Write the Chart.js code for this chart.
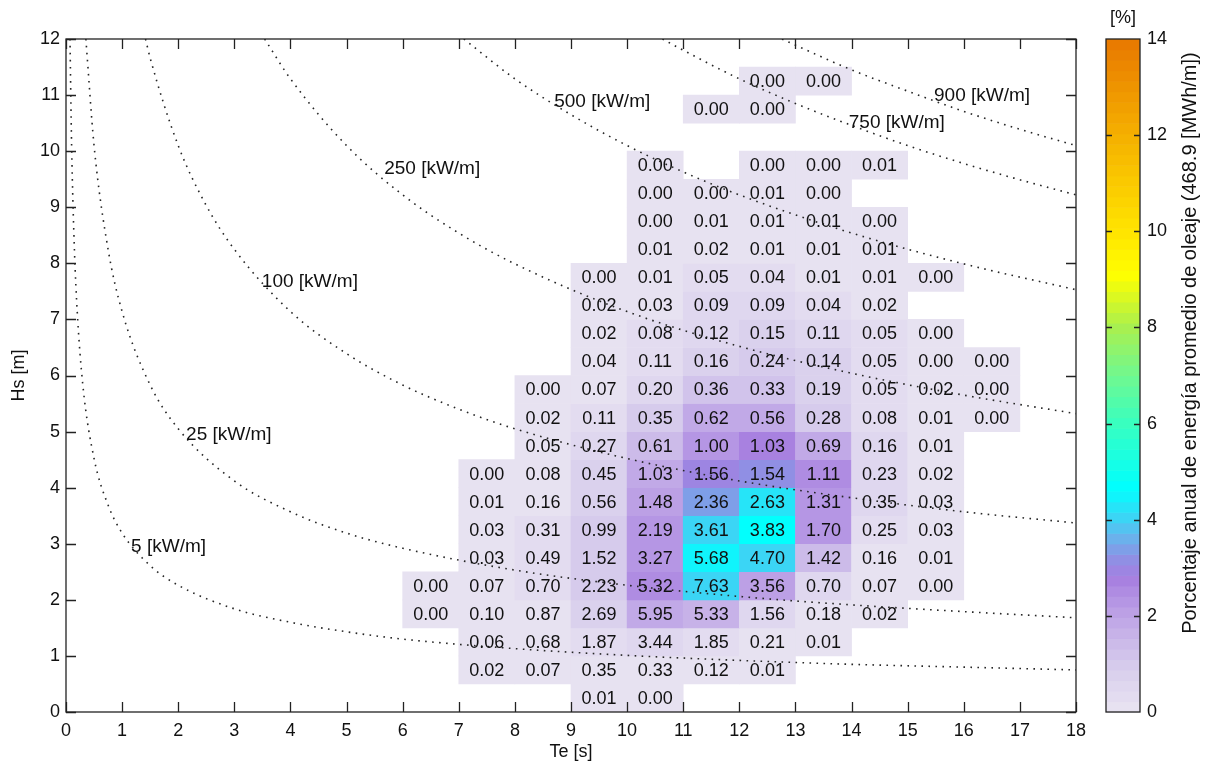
<!DOCTYPE html>
<html>
<head>
<meta charset="utf-8">
<title>Diagrama de dispersion Hs - Te</title>
<script src="https://cdn.jsdelivr.net/npm/chart.js@4.4.1/dist/chart.umd.min.js"></script>
<style>
  html, body { margin: 0; padding: 0; background: #fff; }
  #wrap { position: relative; width: 1206px; height: 766px; }
  #main { position: absolute; left: 0; top: 0; }
  #cbar { position: absolute; left: 1090px; top: 0; }
</style>
</head>
<body>
<div id="wrap">
  <canvas id="main" width="1206" height="766"></canvas>
  <canvas id="cbar" width="116" height="766"></canvas>
</div>
<script>
// Te [s], centre of every column of cells
var teBins = [6.5, 7.5, 8.5, 9.5, 10.5, 11.5, 12.5, 13.5, 14.5, 15.5, 16.5];

// Hs [m], centre of every row of cells (bottom to top)
var hsBins = [0.25, 0.75, 1.25, 1.75, 2.25, 2.75, 3.25, 3.75, 4.25, 4.75, 5.25,
              5.75, 6.25, 6.75, 7.25, 7.75, 8.25, 8.75, 9.25, 9.75, 10.25, 10.75, 11.25];

// value written in each cell [%], one row per Hs bin, null = empty cell
var occ = [
  [null, null, null, 0.01, 0.00, null, null, null, null, null, null],
  [null, 0.02, 0.07, 0.35, 0.33, 0.12, 0.01, null, null, null, null],
  [null, 0.06, 0.68, 1.87, 3.44, 1.85, 0.21, 0.01, null, null, null],
  [0.00, 0.10, 0.87, 2.69, 5.95, 5.33, 1.56, 0.18, 0.02, null, null],
  [0.00, 0.07, 0.70, 2.23, 5.32, 7.63, 3.56, 0.70, 0.07, 0.00, null],
  [null, 0.03, 0.49, 1.52, 3.27, 5.68, 4.70, 1.42, 0.16, 0.01, null],
  [null, 0.03, 0.31, 0.99, 2.19, 3.61, 3.83, 1.70, 0.25, 0.03, null],
  [null, 0.01, 0.16, 0.56, 1.48, 2.36, 2.63, 1.31, 0.35, 0.03, null],
  [null, 0.00, 0.08, 0.45, 1.03, 1.56, 1.54, 1.11, 0.23, 0.02, null],
  [null, null, 0.05, 0.27, 0.61, 1.00, 1.03, 0.69, 0.16, 0.01, null],
  [null, null, 0.02, 0.11, 0.35, 0.62, 0.56, 0.28, 0.08, 0.01, 0.00],
  [null, null, 0.00, 0.07, 0.20, 0.36, 0.33, 0.19, 0.05, 0.02, 0.00],
  [null, null, null, 0.04, 0.11, 0.16, 0.24, 0.14, 0.05, 0.00, 0.00],
  [null, null, null, 0.02, 0.08, 0.12, 0.15, 0.11, 0.05, 0.00, null],
  [null, null, null, 0.02, 0.03, 0.09, 0.09, 0.04, 0.02, null, null],
  [null, null, null, 0.00, 0.01, 0.05, 0.04, 0.01, 0.01, 0.00, null],
  [null, null, null, null, 0.01, 0.02, 0.01, 0.01, 0.01, null, null],
  [null, null, null, null, 0.00, 0.01, 0.01, 0.01, 0.00, null, null],
  [null, null, null, null, 0.00, 0.00, 0.01, 0.00, null, null, null],
  [null, null, null, null, 0.00, null, 0.00, 0.00, 0.01, null, null],
  [null, null, null, null, null, null, null, null, null, null, null],
  [null, null, null, null, null, 0.00, 0.00, null, null, null, null],
  [null, null, null, null, null, null, 0.00, 0.00, null, null, null]
];

// iso-power lines [kW/m]
var powerLevels = [5, 25, 100, 250, 500, 750, 900];

// points, [Te, Hs]
var contour5 = [[0.071, 12], [0.1, 10.10], [0.15, 8.25], [0.2, 7.14], [0.3, 5.83], [0.5, 4.52], [0.75, 3.69],
                [1, 3.19], [1.5, 2.61], [2, 2.26], [3, 1.84], [4, 1.60], [5, 1.43], [6, 1.30], [8, 1.13],
                [10, 1.01], [12, 0.92], [14, 0.85], [16, 0.80], [18, 0.75]];
var contour25 = [[0.354, 12], [0.5, 10.10], [0.75, 8.25], [1, 7.14], [1.5, 5.83], [2, 5.05], [3, 4.12],
                 [4, 3.57], [5, 3.19], [6, 2.92], [8, 2.53], [10, 2.26], [12, 2.06], [14, 1.91], [16, 1.79], [18, 1.68]];
var contour100 = [[1.417, 12], [1.5, 11.66], [2, 10.10], [2.5, 9.03], [3, 8.25], [4, 7.14], [5, 6.39], [6, 5.83],
                  [7, 5.40], [8, 5.05], [10, 4.52], [12, 4.12], [14, 3.82], [16, 3.57], [18, 3.37]];
var contour250 = [[3.54, 12], [4, 11.29], [5, 10.10], [6, 9.22], [7, 8.54], [8, 7.99], [10, 7.14],
                  [12, 6.52], [14, 6.04], [16, 5.65], [18, 5.32]];
var contour500 = [[7.09, 12], [8, 11.29], [9, 10.65], [10, 10.10], [11, 9.63], [12, 9.22], [14, 8.54], [16, 7.99], [18, 7.53]];
var contour750 = [[10.63, 12], [11, 11.80], [12, 11.29], [13, 10.85], [14, 10.46], [15, 10.10], [16, 9.78], [17, 9.49], [18, 9.22]];
var contour900 = [[12.76, 12], [13, 11.89], [14, 11.45], [15, 11.07], [16, 10.71], [17, 10.39], [18, 10.10]];
var contours = [contour5, contour25, contour100, contour250, contour500, contour750, contour900];

// where each line label starts (Te, Hs)
var labelTe = [1.16, 2.14, 3.49, 5.67, 8.70, 13.95, 15.47];
var labelHs = [2.96, 4.97, 7.69, 9.70, 10.90, 10.52, 11.00];

var cbarMax = 14;
var cbarTitle = 'Porcentaje anual de energía promedio de oleaje (468.9 [MWh/m])';

var FONT = '"Liberation Sans", Arial, Helvetica, sans-serif';
Chart.defaults.font.family = FONT;
Chart.defaults.font.size = 18;
Chart.defaults.color = '#111';

// colour map of the colour bar (value -> rgb)
var cmapStops = [
  [0, [233, 229, 242]], [1, [214, 203, 236]], [2, [190, 164, 230]], [2.8, [166, 126, 224]],
  [3.2, [142, 144, 228]], [3.6, [108, 176, 236]], [4.0, [64, 210, 244]], [4.65, [0, 255, 255]],
  [6, [56, 255, 192]], [7, [112, 248, 144]], [8, [168, 240, 80]], [9.1, [255, 255, 0]],
  [10, [255, 228, 0]], [12, [245, 176, 0]], [14, [232, 120, 0]]
];

function cmapRgb(v) {
  // 64 flat steps, like the colour bar
  var lvl = Math.min(63, Math.max(0, Math.floor(v / cbarMax * 64)));
  var t = (lvl + 0.5) * cbarMax / 64;
  for (var i = 1; i < cmapStops.length; i++) {
    if (t <= cmapStops[i][0]) {
      var a = cmapStops[i - 1], b = cmapStops[i];
      var f = (t - a[0]) / (b[0] - a[0]);
      var c = a[1].map(function(x, k) { return Math.round(x + (b[1][k] - x) * f); });
      return 'rgb(' + c.join(',') + ')';
    }
  }
  return 'rgb(232,120,0)';
}

// colour shows the share of the annual energy of each bin (P ~ Hs^2 * Te)
var energyTotal = 0;
hsBins.forEach(function(hs, r) {
  occ[r].forEach(function(v, c) {
    if (v !== null) energyTotal += v * hs * hs * teBins[c];
  });
});

var cells = [];
hsBins.forEach(function(hs, r) {
  occ[r].forEach(function(v, c) {
    if (v === null) return;
    var te = teBins[c];
    cells.push({ x: te, y: [hs - 0.25, hs + 0.25], occ: v, share: 100 * v * hs * hs * te / energyTotal });
  });
});

var datasets = [];
contours.forEach(function(pts, i) {
  datasets.push({
    type: 'line',
    label: powerLevels[i] + ' [kW/m]',
    data: pts.map(function(p) { return { x: p[0], y: p[1] }; }),
    borderColor: '#262626',
    borderWidth: 1.6,
    borderDash: [1.6, 5.4],
    pointRadius: 0,
    cubicInterpolationMode: 'monotone',
    fill: false,
    order: 1
  });
});
datasets.push({
  type: 'bar',
  label: 'celdas',
  data: cells,
  backgroundColor: function(c) { return c.raw ? cmapRgb(c.raw.share) : 'rgba(0,0,0,0)'; },
  borderWidth: 0,
  barPercentage: 1,
  categoryPercentage: 1,
  order: 2
});

// numbers in the cells + labels of the dotted lines
var textPlugin = {
  id: 'textPlugin',
  afterDatasetsDraw: function(chart) {
    var ctx = chart.ctx, xs = chart.scales.x, ys = chart.scales.y;
    ctx.save();
    ctx.font = '18px ' + FONT;
    ctx.fillStyle = '#111';
    ctx.textAlign = 'center';
    ctx.textBaseline = 'middle';
    hsBins.forEach(function(hs, r) {
      occ[r].forEach(function(v, c) {
        if (v === null) return;
        ctx.fillText(v.toFixed(2), xs.getPixelForValue(teBins[c]), ys.getPixelForValue(hs) + 1);
      });
    });
    ctx.font = '19px ' + FONT;
    ctx.textAlign = 'left';
    powerLevels.forEach(function(p, i) {
      ctx.fillText(p + ' [kW/m]', xs.getPixelForValue(labelTe[i]), ys.getPixelForValue(labelHs[i]) + 1);
    });
    ctx.restore();
  }
};

// box and inward ticks
var framePlugin = {
  id: 'framePlugin',
  afterDraw: function(chart) {
    var ctx = chart.ctx, a = chart.chartArea, xs = chart.scales.x, ys = chart.scales.y;
    var tl = 10, i, p;
    ctx.save();
    ctx.strokeStyle = '#222';
    ctx.lineWidth = 1.3;
    ctx.beginPath();
    for (i = 0; i <= 18; i++) {
      p = Math.round(xs.getPixelForValue(i)) + 0.5;
      ctx.moveTo(p, a.bottom); ctx.lineTo(p, a.bottom - tl);
      ctx.moveTo(p, a.top); ctx.lineTo(p, a.top + tl);
    }
    for (i = 0; i <= 12; i++) {
      p = Math.round(ys.getPixelForValue(i)) + 0.5;
      ctx.moveTo(a.left, p); ctx.lineTo(a.left + tl, p);
      ctx.moveTo(a.right, p); ctx.lineTo(a.right - tl, p);
    }
    ctx.stroke();
    ctx.strokeRect(a.left, a.top, a.right - a.left, a.bottom - a.top);
    ctx.restore();
  }
};

new Chart(document.getElementById('main'), {
  type: 'bar',
  data: { datasets: datasets },
  options: {
    responsive: false,
    animation: false,
    layout: { padding: { left: 0, right: 130, top: 39, bottom: 0 } },
    plugins: { legend: { display: false }, tooltip: { enabled: false } },
    scales: {
      x: {
        type: 'linear', min: 0, max: 18, offset: false,
        ticks: { stepSize: 1, padding: 8, maxRotation: 0, autoSkip: false },
        grid: { display: false, drawTicks: false, offset: false },
        border: { display: false },
        title: { display: true, text: 'Te [s]', padding: { top: 0, bottom: 3 } },
        afterFit: function(s) { s.height = 54; }
      },
      y: {
        type: 'linear', min: 0, max: 12,
        ticks: { stepSize: 1, padding: 6 },
        grid: { display: false, drawTicks: false },
        border: { display: false },
        title: { display: true, text: 'Hs [m]', padding: { top: 8, bottom: 0 } },
        afterFit: function(s) { s.width = 66; }
      }
    }
  },
  plugins: [textPlugin, framePlugin]
});

// colour bar
var cbarPlugin = {
  id: 'cbarPlugin',
  beforeDatasetsDraw: function(chart) {
    var ctx = chart.ctx, a = chart.chartArea, ys = chart.scales.y;
    ctx.save();
    for (var i = 0; i < 64; i++) {
      var v0 = i * cbarMax / 64, v1 = (i + 1) * cbarMax / 64;
      var y0 = ys.getPixelForValue(v0), y1 = ys.getPixelForValue(v1);
      ctx.fillStyle = cmapRgb((v0 + v1) / 2);
      ctx.fillRect(a.left, y1, a.right - a.left, y0 - y1 + 0.6);
    }
    ctx.restore();
  },
  afterDraw: function(chart) {
    var ctx = chart.ctx, a = chart.chartArea, ys = chart.scales.y;
    ctx.save();
    ctx.strokeStyle = '#222';
    ctx.lineWidth = 1.3;
    ctx.beginPath();
    for (var v = 2; v < cbarMax; v += 2) {
      var p = Math.round(ys.getPixelForValue(v)) + 0.5;
      ctx.moveTo(a.left, p); ctx.lineTo(a.left + 6, p);
      ctx.moveTo(a.right, p); ctx.lineTo(a.right - 6, p);
    }
    ctx.stroke();
    ctx.strokeRect(a.left, a.top, a.right - a.left, a.bottom - a.top);
    ctx.fillStyle = '#111';
    ctx.font = '18px ' + FONT;
    ctx.textAlign = 'center';
    ctx.textBaseline = 'middle';
    ctx.fillText('[%]', (a.left + a.right) / 2, 18);
    ctx.font = '20px ' + FONT;
    ctx.translate(100, 343);
    ctx.rotate(-Math.PI / 2);
    ctx.fillText(cbarTitle, 0, 0);
    ctx.restore();
  }
};

new Chart(document.getElementById('cbar'), {
  type: 'scatter',
  data: { datasets: [] },
  options: {
    responsive: false,
    animation: false,
    layout: { padding: { left: 16, right: 0, top: 39, bottom: 54 } },
    plugins: { legend: { display: false }, tooltip: { enabled: false } },
    scales: {
      x: { display: false },
      y: {
        position: 'right', min: 0, max: cbarMax,
        ticks: { stepSize: 2, padding: 7 },
        grid: { display: false, drawTicks: false },
        border: { display: false },
        afterFit: function(s) { s.width = 66; }
      }
    }
  },
  plugins: [cbarPlugin]
});
</script>
</body>
</html>
